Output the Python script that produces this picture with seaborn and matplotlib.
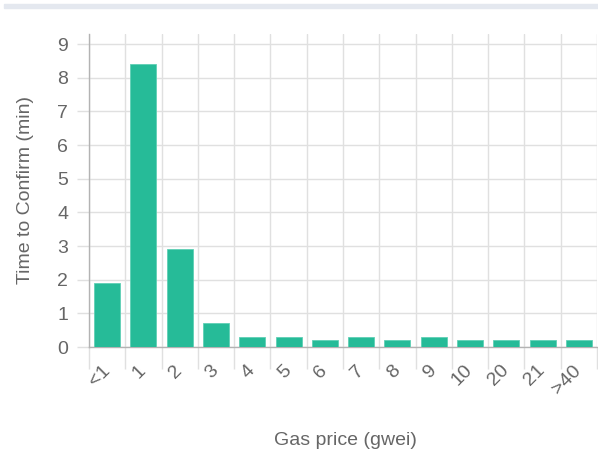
import matplotlib
matplotlib.use("Agg")
import matplotlib.pyplot as plt
from matplotlib.patches import Rectangle
import seaborn as sns
import pandas as pd
import numpy as np

# Dados do gráfico
precos = ['<1', '1', '2', '3', '4', '5', '6', '7', '8', '9', '10', '20', '21', '>40']
tempos = [1.9, 8.4, 2.9, 0.7, 0.3, 0.3, 0.2, 0.3, 0.2, 0.3, 0.2, 0.2, 0.2, 0.2]
yTicks = list(range(0, 10))

corBarra = '#26bb98'
corTexto = '#666666'
corGrelha = '#e0e0e0'
corEixo = '#b3b3b3'

sns.set_style("white")
plt.rcParams['font.family'] = ['Liberation Sans', 'DejaVu Sans']

df = pd.DataFrame({'preco': precos, 'tempo': tempos})

fig = plt.figure(figsize=(5.98, 4.54), dpi=100)
# Faixa cinzenta no topo
fig.patches.append(Rectangle((4 / 598, 1 - 8 / 454), 594 / 598, 4 / 454,
                             transform=fig.transFigure, color='#e4e8ef', zorder=0))

ax = fig.add_axes([89 / 598, 1 - 347 / 454, 508 / 598, 313 / 454])
sns.barplot(data=df, x='preco', y='tempo', color=corBarra, width=0.72,
            edgecolor='#5fd0b5', linewidth=0.6, saturation=1, ax=ax, zorder=3)

ax.set_xlim(-0.5, len(precos) - 0.5)
ax.set_ylim(0, 9.3)
ax.set_yticks(yTicks)

# Grelha vertical nas fronteiras das categorias
ax.set_xticks(np.arange(-0.5, len(precos), 1), minor=True)
ax.grid(True, which='minor', axis='x', color=corGrelha, linewidth=1, zorder=0)
ax.grid(True, which='major', axis='y', color=corGrelha, linewidth=1, zorder=0)
ax.grid(False, which='major', axis='x')
ax.tick_params(axis='x', which='minor', bottom=True, length=16, color=corGrelha, width=1)
ax.tick_params(axis='x', which='major', bottom=True, length=0, pad=15)
ax.tick_params(axis='y', left=True, length=9, color=corGrelha, width=1, pad=6)
ax.tick_params(labelsize=14, labelcolor=corTexto)
plt.setp(ax.get_xticklabels(), rotation=45, ha='right', va='center', rotation_mode='anchor')

for lado in ['top', 'right']:
    ax.spines[lado].set_visible(False)
for lado in ['left', 'bottom']:
    ax.spines[lado].set_color(corEixo)
    ax.spines[lado].set_linewidth(1)

ax.set_xlabel('Gas price (gwei)', fontsize=14, color=corTexto)
ax.xaxis.set_label_coords(0.504, -0.272)
ax.set_ylabel('Time to Confirm (min)', fontsize=14, color=corTexto, labelpad=17)

fig.savefig('out.png', dpi=100)
